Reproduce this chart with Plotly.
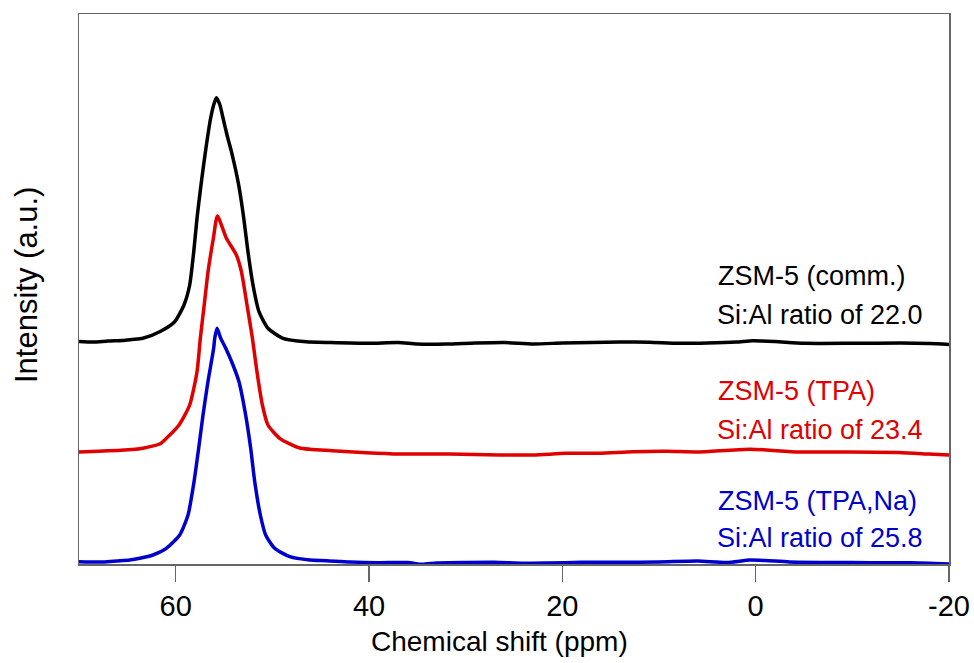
import plotly.graph_objects as go

# ---- data (ppm, intensity relative to own baseline, a.u.) ----
comm_ppm = [70.0, 68.5, 67.0, 65.5, 64.5, 63.4, 61.65, 60.1, 59.14, 58.55, 58.13, 57.79, 57.38,
            56.92, 56.38, 56.07, 55.79, 55.42, 55.1, 54.69, 54.23, 53.48, 52.96, 52.52, 52.0,
            51.38, 50.45, 48.9, 46.5, 44.0, 40.0, 37.0, 35.0, 32.0, 29.0, 26.0, 23.0, 20.0,
            17.0, 14.0, 11.0, 8.0, 5.0, 2.0, 0.3, -2.0, -5.0, -10.0, -15.0, -18.0, -20.0]
comm_int = [0.5, 0.0, 1.0, 1.5, 2.5, 3.7, 10.3, 20.3, 37.0, 57.0, 90.3, 124.0, 157.0,
            190.3, 224.0, 237.0, 244.3, 237.0, 224.0, 207.0, 190.3, 157.0, 124.0, 90.3, 57.0,
            30.3, 13.7, 3.7, 0.3, -0.5, -1.3, -0.5, -2.0, -2.0, -1.0, -0.5, -2.0, -1.0,
            -0.5, 0.0, -0.3, -1.3, -1.0, 0.0, 1.3, 0.5, -1.3, -1.3, -1.0, -1.5, -2.5]

tpa_ppm = [70.0, 68.0, 66.0, 64.5, 63.7, 63.03, 61.65, 60.96, 59.65, 58.55, 57.79, 57.45, 57.05,
           56.65, 56.1, 55.68, 54.75, 53.72, 53.2, 52.62, 52.06, 51.59, 51.03, 50.45, 49.24,
           47.17, 43.8, 40.3, 36.8, 31.7, 26.5, 23.0, 19.6, 16.2, 12.7, 9.2, 5.8, 0.6, -1.1,
           -4.5, -9.7, -14.8, -17.9, -20.0]
tpa_int = [0.0, 0.8, 1.5, 2.5, 3.2, 4.5, 8.0, 13.7, 27.0, 47.0, 80.3, 113.7, 146.7,
           180.3, 213.7, 236.0, 213.7, 197.0, 180.3, 147.0, 113.7, 80.3, 47.0, 27.0, 13.7,
           4.0, 1.3, -0.7, -2.0, -2.0, -3.0, -3.0, -1.3, -1.3, 0.3, 0.7, 0.0, 2.7, 2.0,
           0.0, 0.0, -0.5, -2.0, -3.0]

tpana_ppm = [70.0, 67.5, 66.1, 64.75, 63.72, 62.35, 60.96, 59.58, 58.72, 58.10, 57.62, 57.17,
             56.66, 56.07, 55.96, 55.72, 55.34, 54.82, 54.07, 53.45, 52.76, 52.24, 51.82, 51.24,
             50.69, 49.76, 48.20, 46.13, 44.4, 42.0, 39.0, 36.0, 34.5, 33.0, 30.0, 27.0, 24.0,
             21.5, 18.0, 14.0, 10.0, 6.0, 3.0, 0.6, -1.0, -3.5, -8.0, -12.0, -16.0, -20.0]
tpana_int = [0.3, 0.0, 1.0, 2.0, 3.7, 7.0, 13.7, 27.0, 47.0, 80.3, 113.7, 147.0,
             180.3, 213.7, 223.7, 233.7, 223.7, 213.7, 197.0, 180.3, 147.0, 113.7, 80.3, 47.0,
             27.0, 13.7, 5.3, 2.0, 1.3, 0.0, -0.7, -0.5, -2.3, -1.0, -0.5, -0.3, -1.3,
             -1.0, -0.3, -0.3, 0.0, 1.0, -0.5, 2.0, 1.5, 0.0, -0.5, -0.7, -0.8, -2.0]

names = ["ZSM-5 (comm.)", "ZSM-5 (TPA)", "ZSM-5 (TPA,Na)"]
ratios = ["Si:Al ratio of 22.0", "Si:Al ratio of 23.4", "Si:Al ratio of 25.8"]
offsets = [222, 112, 2]
colors = ["#000000", "#e00000", "#0000cd"]
x_ticks = [60, 40, 20, 0, -20]

series = [(comm_ppm, comm_int), (tpa_ppm, tpa_int), (tpana_ppm, tpana_int)]

FONT = "Liberation Sans, Arial, sans-serif"
fig = go.Figure()
for (xs, ys), off, col, nm in zip(series, offsets, colors, names):
    fig.add_trace(go.Scatter(x=xs, y=[v + off for v in ys], mode="lines", name=nm,
                             line=dict(color=col, width=3.5, shape="spline", smoothing=0.6),
                             showlegend=False, hoverinfo="skip"))

W, H = 974, 663
L, R, T, B = 79, 25, 14, 99
pw, ph = W - L - R, H - T - B

def px(xp):
    return (xp - L) / pw

def py(yp):
    return (H - B - yp) / ph

label_rows = [(275.5, 315), (391, 430), (500.5, 538)]
annos = []
for (y1, y2), nm, rt, col in zip(label_rows, names, ratios, colors):
    annos.append(dict(x=px(716), y=py(y1), xref="paper", yref="paper", text=nm, showarrow=False,
                      xanchor="left", yanchor="middle", font=dict(family=FONT, size=27, color=col)))
    annos.append(dict(x=px(715), y=py(y2), xref="paper", yref="paper", text=rt, showarrow=False,
                      xanchor="left", yanchor="middle", font=dict(family=FONT, size=27, color=col)))
annos.append(dict(x=px(499), y=py(641), xref="paper", yref="paper", text="Chemical shift (ppm)",
                  showarrow=False, xanchor="center", yanchor="middle",
                  font=dict(family=FONT, size=28, color="#000")))
annos.append(dict(x=px(26), y=py(285), xref="paper", yref="paper", text="Intensity (a.u.)",
                  showarrow=False, xanchor="center", yanchor="middle", textangle=-90,
                  font=dict(family=FONT, size=31, color="#000")))

fig.update_layout(
    width=W, height=H, margin=dict(l=L, r=R, t=T, b=B, autoexpand=False),
    paper_bgcolor="white", plot_bgcolor="white",
    font=dict(family=FONT, color="#000"),
    annotations=annos,
    hovermode=False,
    xaxis=dict(range=[70, -20], tickvals=x_ticks, ticktext=[str(v) for v in x_ticks],
               ticks="outside", ticklen=16, tickwidth=1.5, tickcolor="#666",
               showline=True, linecolor="#666", linewidth=1.5, mirror=True,
               showgrid=False, zeroline=False, tickfont=dict(family=FONT, size=29, color="#000")),
    yaxis=dict(range=[0, 550], showticklabels=False, ticks="", showline=True, linecolor="#666",
               linewidth=1.5, mirror=True, showgrid=False, zeroline=False),
)
# remove the default 8px page margin so the figure fills the window exactly
fig.write_html("out.html", config={"displayModeBar": False, "staticPlot": True},
               post_script="document.body.style.margin='0';document.body.style.overflow='hidden';")
